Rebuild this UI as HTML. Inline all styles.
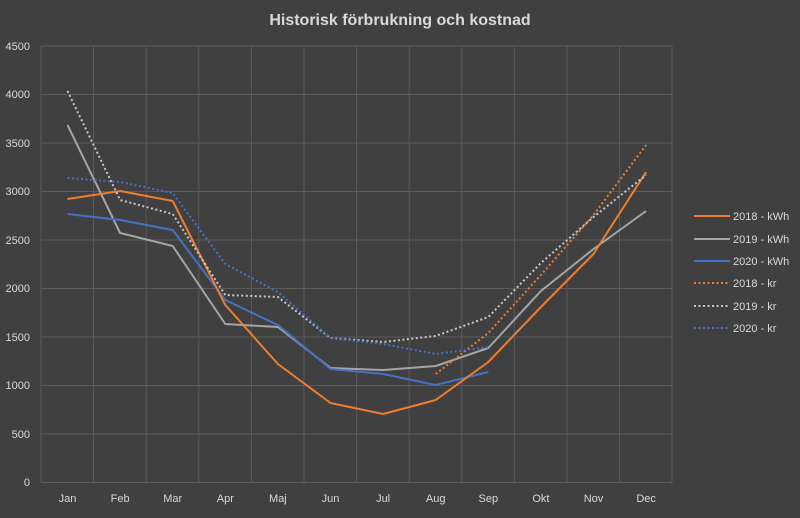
<!DOCTYPE html>
<html><head><meta charset="utf-8"><style>
html,body{margin:0;padding:0;background:#404040;}
svg text{font-family:"Liberation Sans",sans-serif;fill:#d9d9d9;}
</style></head><body>
<svg width="800" height="513" viewBox="0 0 800 513" xmlns="http://www.w3.org/2000/svg">
<rect width="800" height="513" fill="#404040"/>
<text x="400" y="25" text-anchor="middle" font-size="16" font-weight="bold">Historisk förbrukning och kostnad</text>
<g stroke="#5a5a5a" stroke-width="1">
<line x1="41" y1="46" x2="672" y2="46"/><line x1="41" y1="94.5" x2="672" y2="94.5"/><line x1="41" y1="143" x2="672" y2="143"/><line x1="41" y1="191.5" x2="672" y2="191.5"/><line x1="41" y1="240" x2="672" y2="240"/><line x1="41" y1="288.5" x2="672" y2="288.5"/><line x1="41" y1="337" x2="672" y2="337"/><line x1="41" y1="385.5" x2="672" y2="385.5"/><line x1="41" y1="434" x2="672" y2="434"/><line x1="41" y1="482.5" x2="672" y2="482.5"/>
<line x1="41" y1="46" x2="41" y2="482"/><line x1="93.6" y1="46" x2="93.6" y2="482"/><line x1="146.2" y1="46" x2="146.2" y2="482"/><line x1="198.8" y1="46" x2="198.8" y2="482"/><line x1="251.4" y1="46" x2="251.4" y2="482"/><line x1="304" y1="46" x2="304" y2="482"/><line x1="356.6" y1="46" x2="356.6" y2="482"/><line x1="409.2" y1="46" x2="409.2" y2="482"/><line x1="461.8" y1="46" x2="461.8" y2="482"/><line x1="514.4" y1="46" x2="514.4" y2="482"/><line x1="567" y1="46" x2="567" y2="482"/><line x1="619.6" y1="46" x2="619.6" y2="482"/><line x1="672" y1="46" x2="672" y2="482"/>
</g>
<g font-size="11" text-anchor="end">
<text x="30" y="50">4500</text><text x="30" y="98">4000</text><text x="30" y="147">3500</text><text x="30" y="195">3000</text><text x="30" y="244">2500</text><text x="30" y="292">2000</text><text x="30" y="341">1500</text><text x="30" y="389">1000</text><text x="30" y="438">500</text><text x="30" y="486">0</text>
</g>
<g font-size="11" text-anchor="middle">
<text x="67.5" y="502">Jan</text><text x="120.1" y="502">Feb</text><text x="172.7" y="502">Mar</text><text x="225.3" y="502">Apr</text><text x="277.9" y="502">Maj</text><text x="330.5" y="502">Jun</text><text x="383.1" y="502">Jul</text><text x="435.7" y="502">Aug</text><text x="488.3" y="502">Sep</text><text x="540.9" y="502">Okt</text><text x="593.5" y="502">Nov</text><text x="646.1" y="502">Dec</text>
</g>
<g fill="none" stroke-width="2" stroke-linejoin="round">
<polyline stroke="#a5a5a5" points="67.5,125 120.1,233 172.7,246 225.3,324 277.9,327 330.5,368 383.1,370 435.7,366 488.3,348 540.9,291 593.5,249 646.1,211"/>
<polyline stroke="#4472c4" points="67.5,214 120.1,220 172.7,230 225.3,300 277.9,325 330.5,369 383.1,374 435.7,385 488.3,372"/>
<polyline stroke="#ed7d31" points="67.5,199 120.1,191 172.7,201 225.3,305 277.9,364 330.5,403 383.1,414 435.7,400 488.3,362 540.9,307 593.5,254 646.1,172"/>
</g>
<g fill="none" stroke-width="2" stroke-dasharray="2,2.5">
<polyline stroke="#ed7d31" points="435.7,374 488.3,333 540.9,275 593.5,215 646.1,145"/>
<polyline stroke="#c8c8c8" points="67.5,91 120.1,200 172.7,214 225.3,295 277.9,297 330.5,338 383.1,342 435.7,336 488.3,317 540.9,263 593.5,217 646.1,175"/>
<polyline stroke="#4472c4" points="67.5,178 120.1,182 172.7,193 225.3,264 277.9,292 330.5,338 383.1,344 435.7,354 488.3,347"/>
</g>
<g stroke-width="2">
<line x1="694" y1="216" x2="730" y2="216" stroke="#ed7d31"/>
<line x1="694" y1="239" x2="730" y2="239" stroke="#a5a5a5"/>
<line x1="694" y1="261" x2="730" y2="261" stroke="#4472c4"/>
<line x1="694" y1="283" x2="730" y2="283" stroke="#ed7d31" stroke-dasharray="2,2.5"/>
<line x1="694" y1="306" x2="730" y2="306" stroke="#c8c8c8" stroke-dasharray="2,2.5"/>
<line x1="694" y1="328" x2="730" y2="328" stroke="#4472c4" stroke-dasharray="2,2.5"/>
</g>
<g font-size="11">
<text x="733" y="220">2018 - kWh</text><text x="733" y="243">2019 - kWh</text><text x="733" y="265">2020 - kWh</text><text x="733" y="287">2018 - kr</text><text x="733" y="310">2019 - kr</text><text x="733" y="332">2020 - kr</text>
</g>
</svg>
</body></html>
